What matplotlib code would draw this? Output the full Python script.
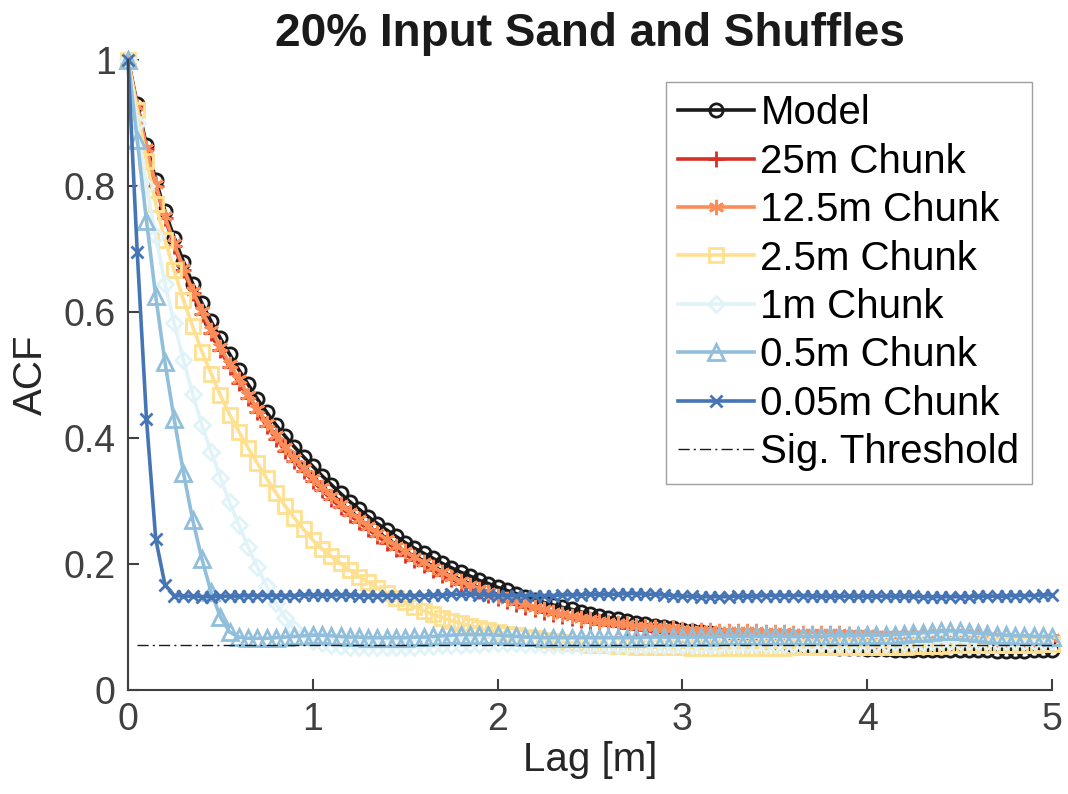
import matplotlib
matplotlib.use("Agg")
import matplotlib.pyplot as plt
from matplotlib.ticker import FormatStrFormatter
import numpy as np

plt.rcParams['font.family'] = ['Liberation Sans', 'DejaVu Sans']

# lag axis: 101 lags, 0.05 m apart
lag = np.round(np.arange(101) * 0.05, 2)

acf_model = [
    1.000, 0.930, 0.865, 0.810, 0.760, 0.718, 0.680, 0.645, 0.614, 0.585,
    0.558, 0.533, 0.508, 0.485, 0.462, 0.441, 0.421, 0.403, 0.386, 0.370,
    0.355, 0.340, 0.326, 0.312, 0.299, 0.287, 0.275, 0.264, 0.254, 0.244,
    0.234, 0.225, 0.217, 0.209, 0.201, 0.194, 0.187, 0.181, 0.174, 0.169,
    0.163, 0.158, 0.153, 0.148, 0.143, 0.139, 0.135, 0.131, 0.128, 0.124,
    0.121, 0.118, 0.115, 0.112, 0.109, 0.107, 0.104, 0.102, 0.100, 0.098,
    0.096, 0.094, 0.092, 0.090, 0.088, 0.086, 0.084, 0.082, 0.080, 0.078,
    0.076, 0.074, 0.072, 0.071, 0.070, 0.069, 0.068, 0.067, 0.066, 0.066,
    0.065, 0.065, 0.065, 0.064, 0.064, 0.064, 0.064, 0.063, 0.063, 0.063,
    0.063, 0.063, 0.063, 0.063, 0.062, 0.062, 0.062, 0.062, 0.063, 0.063,
    0.064,
]

acf_25m = [
    1.000, 0.926, 0.858, 0.800, 0.749, 0.705, 0.666, 0.630, 0.597, 0.567,
    0.539, 0.513, 0.488, 0.464, 0.441, 0.419, 0.399, 0.380, 0.363, 0.347,
    0.332, 0.317, 0.303, 0.290, 0.278, 0.266, 0.255, 0.244, 0.234, 0.224,
    0.215, 0.206, 0.198, 0.190, 0.183, 0.176, 0.169, 0.163, 0.157, 0.151,
    0.146, 0.141, 0.136, 0.132, 0.128, 0.124, 0.120, 0.117, 0.114, 0.111,
    0.108, 0.105, 0.103, 0.101, 0.099, 0.097, 0.095, 0.093, 0.092, 0.090,
    0.089, 0.088, 0.087, 0.086, 0.085, 0.085, 0.084, 0.083, 0.083, 0.082,
    0.082, 0.081, 0.081, 0.080, 0.080, 0.079, 0.079, 0.079, 0.078, 0.078,
    0.078, 0.077, 0.077, 0.077, 0.077, 0.076, 0.076, 0.076, 0.076, 0.076,
    0.076, 0.076, 0.076, 0.077, 0.077, 0.077, 0.077, 0.078, 0.078, 0.078,
    0.078,
]

acf_12m5 = [
    1.000, 0.927, 0.860, 0.803, 0.752, 0.709, 0.670, 0.634, 0.602, 0.572,
    0.544, 0.518, 0.493, 0.469, 0.446, 0.424, 0.404, 0.385, 0.368, 0.352,
    0.336, 0.322, 0.308, 0.295, 0.283, 0.271, 0.260, 0.249, 0.239, 0.229,
    0.220, 0.211, 0.203, 0.195, 0.187, 0.180, 0.173, 0.167, 0.161, 0.155,
    0.150, 0.145, 0.141, 0.136, 0.132, 0.128, 0.124, 0.121, 0.118, 0.115,
    0.112, 0.110, 0.108, 0.106, 0.104, 0.102, 0.101, 0.100, 0.099, 0.098,
    0.097, 0.096, 0.095, 0.095, 0.094, 0.094, 0.093, 0.093, 0.093, 0.092,
    0.092, 0.092, 0.091, 0.091, 0.091, 0.090, 0.090, 0.090, 0.089, 0.089,
    0.089, 0.088, 0.088, 0.088, 0.087, 0.087, 0.087, 0.086, 0.086, 0.086,
    0.085, 0.085, 0.085, 0.084, 0.084, 0.084, 0.083, 0.083, 0.083, 0.082,
    0.082,
]

acf_2m5 = [
    1.000, 0.920, 0.840, 0.772, 0.714, 0.666, 0.619, 0.577, 0.537, 0.502,
    0.468, 0.437, 0.410, 0.384, 0.360, 0.336, 0.313, 0.292, 0.273, 0.255,
    0.238, 0.224, 0.212, 0.201, 0.190, 0.180, 0.171, 0.162, 0.154, 0.146,
    0.139, 0.132, 0.126, 0.120, 0.115, 0.110, 0.106, 0.102, 0.098, 0.095,
    0.092, 0.089, 0.087, 0.084, 0.082, 0.080, 0.078, 0.076, 0.075, 0.074,
    0.072, 0.071, 0.071, 0.070, 0.070, 0.069, 0.069, 0.068, 0.068, 0.068,
    0.068, 0.067, 0.067, 0.067, 0.067, 0.067, 0.067, 0.067, 0.067, 0.067,
    0.067, 0.067, 0.068, 0.068, 0.068, 0.068, 0.068, 0.068, 0.068, 0.068,
    0.068, 0.069, 0.069, 0.069, 0.069, 0.070, 0.070, 0.070, 0.070, 0.071,
    0.071, 0.071, 0.071, 0.072, 0.072, 0.072, 0.072, 0.072, 0.072, 0.073,
    0.073,
]

acf_1m = [
    1.000, 0.900, 0.800, 0.720, 0.645, 0.582, 0.524, 0.470, 0.420, 0.378,
    0.337, 0.298, 0.262, 0.227, 0.195, 0.165, 0.138, 0.115, 0.097, 0.085,
    0.078, 0.074, 0.071, 0.070, 0.069, 0.068, 0.068, 0.068, 0.068, 0.068,
    0.069, 0.069, 0.070, 0.070, 0.071, 0.072, 0.072, 0.073, 0.073, 0.074,
    0.074, 0.074, 0.074, 0.073, 0.073, 0.072, 0.072, 0.072, 0.071, 0.071,
    0.071, 0.071, 0.071, 0.071, 0.071, 0.071, 0.071, 0.072, 0.072, 0.072,
    0.072, 0.072, 0.072, 0.072, 0.072, 0.073, 0.073, 0.073, 0.073, 0.073,
    0.073, 0.073, 0.073, 0.074, 0.074, 0.074, 0.074, 0.074, 0.075, 0.075,
    0.075, 0.075, 0.075, 0.076, 0.076, 0.076, 0.076, 0.077, 0.077, 0.077,
    0.077, 0.077, 0.078, 0.078, 0.078, 0.078, 0.078, 0.078, 0.078, 0.077,
    0.077,
]

acf_0m5 = [
    1.000, 0.873, 0.745, 0.625, 0.520, 0.430, 0.345, 0.270, 0.208, 0.155,
    0.116, 0.092, 0.084, 0.082, 0.082, 0.082, 0.083, 0.084, 0.085, 0.086,
    0.087, 0.087, 0.086, 0.085, 0.084, 0.084, 0.083, 0.083, 0.083, 0.083,
    0.083, 0.084, 0.084, 0.085, 0.086, 0.087, 0.088, 0.088, 0.088, 0.088,
    0.087, 0.086, 0.085, 0.084, 0.084, 0.083, 0.083, 0.083, 0.083, 0.083,
    0.083, 0.083, 0.083, 0.083, 0.083, 0.083, 0.084, 0.084, 0.084, 0.084,
    0.084, 0.084, 0.084, 0.084, 0.085, 0.085, 0.085, 0.085, 0.085, 0.085,
    0.085, 0.085, 0.085, 0.085, 0.085, 0.085, 0.086, 0.086, 0.086, 0.086,
    0.087, 0.087, 0.087, 0.088, 0.089, 0.090, 0.091, 0.092, 0.093, 0.094,
    0.093, 0.092, 0.090, 0.089, 0.088, 0.087, 0.086, 0.086, 0.085, 0.085,
    0.084,
]

acf_0m05 = [
    1.000, 0.695, 0.430, 0.240, 0.167, 0.150, 0.149, 0.149, 0.148, 0.148,
    0.149, 0.149, 0.149, 0.150, 0.150, 0.150, 0.150, 0.150, 0.150, 0.151,
    0.151, 0.151, 0.151, 0.151, 0.151, 0.150, 0.150, 0.150, 0.150, 0.150,
    0.150, 0.150, 0.150, 0.151, 0.151, 0.152, 0.152, 0.152, 0.151, 0.151,
    0.150, 0.150, 0.150, 0.150, 0.150, 0.150, 0.150, 0.151, 0.151, 0.151,
    0.152, 0.152, 0.152, 0.152, 0.153, 0.153, 0.152, 0.152, 0.151, 0.150,
    0.149, 0.149, 0.148, 0.148, 0.148, 0.148, 0.149, 0.149, 0.149, 0.150,
    0.150, 0.150, 0.150, 0.150, 0.149, 0.149, 0.149, 0.149, 0.149, 0.149,
    0.149, 0.149, 0.149, 0.149, 0.149, 0.149, 0.148, 0.148, 0.148, 0.148,
    0.148, 0.148, 0.149, 0.149, 0.149, 0.149, 0.150, 0.150, 0.150, 0.151,
    0.151,
]

sig_threshold = 0.0715
threshold_span = [0.05, 5.0]

series = [
    ("Model", acf_model, "#1a1a1a", "o", 9.5),
    ("25m Chunk", acf_25m, "#d73027", "+", 11),
    ("12.5m Chunk", acf_12m5, "#fc8d59", (6, 2, 0), 11),
    ("2.5m Chunk", acf_2m5, "#fee090", "s", 9.5),
    ("1m Chunk", acf_1m, "#e0f3f8", "D", 8.5),
    ("0.5m Chunk", acf_0m5, "#91bfdb", "^", 12),
    ("0.05m Chunk", acf_0m05, "#4575b4", "x", 8),
]

fig = plt.figure(figsize=(10.68, 7.94), dpi=100)
ax = fig.add_axes([128 / 1068, 1 - 690 / 794, 924 / 1068, 630 / 794])

for label, vals, col, mk, ms in series:
    ax.plot(lag, vals, color=col, lw=2.6, marker=mk, ms=ms, mfc='none',
            mec=col, mew=2.0, label=label, clip_on=False)

ax.plot(threshold_span, [sig_threshold, sig_threshold], color='#1a1a1a',
        lw=1, linestyle=(0, (8, 3, 1.5, 3)), label='Sig. Threshold')

ax.set_xlim(0, 5)
ax.set_ylim(0, 1)
ax.set_xticks([0, 1, 2, 3, 4, 5])
ax.set_yticks([0, 0.2, 0.4, 0.6, 0.8, 1])
ax.yaxis.set_major_formatter(FormatStrFormatter('%g'))

for side in ['top', 'right']:
    ax.spines[side].set_visible(False)
for side in ['left', 'bottom']:
    ax.spines[side].set_color('#404040')
    ax.spines[side].set_linewidth(1.5)

ax.tick_params(direction='in', length=8, width=1.5, color='#404040',
               labelsize=27, labelcolor='#404040', pad=9)

ax.set_xlabel('Lag [m]', fontsize=29, color='#262626', labelpad=2)
ax.set_ylabel('ACF', fontsize=29, color='#262626', labelpad=10)
ax.set_title('20% Input Sand and Shuffles', fontsize=33, fontweight='bold',
             color='#1a1a1a', pad=10)

leg = ax.legend(loc='upper right', bbox_to_anchor=(0.978, 0.965),
                borderaxespad=0, fontsize=29, frameon=True, fancybox=False,
                framealpha=1, edgecolor='#a0a0a0', handlelength=1.9,
                handletextpad=0.15, labelspacing=0.26, borderpad=0.3)
leg.get_frame().set_linewidth(1.0)

plt.savefig('out.png', dpi=100)
plt.close(fig)
